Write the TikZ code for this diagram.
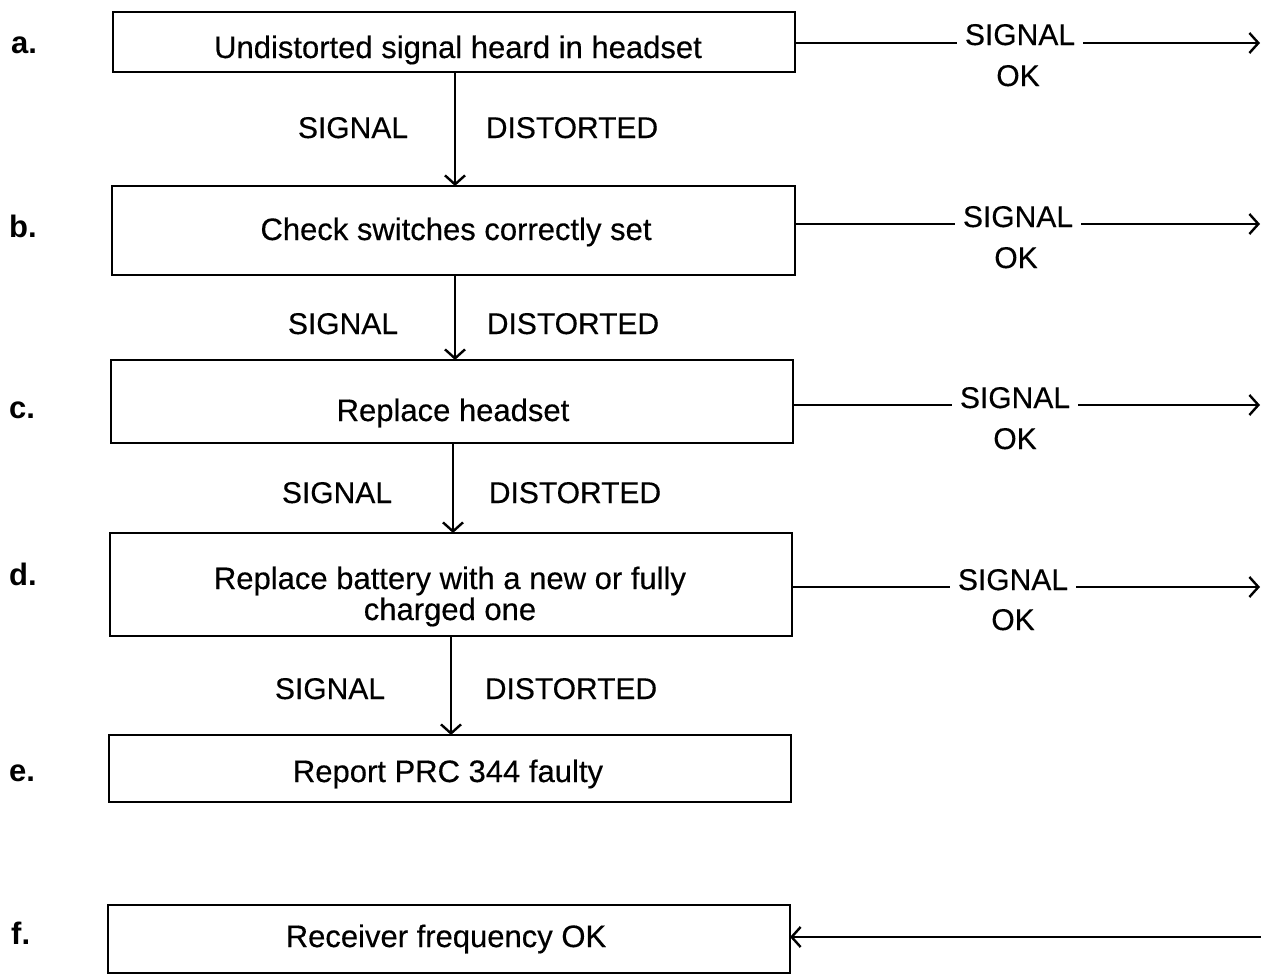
\documentclass[tikz,border=0pt]{standalone}
\usepackage{fontspec}
\setmainfont[FakeBold=0.4]{Liberation Sans}
\newfontfamily\letterfont{Liberation Sans}
\usetikzlibrary{arrows.meta}
\begin{document}
\begin{tikzpicture}[x=1pt,y=-1pt,
  box/.style={draw, line width=2.3pt, inner sep=0pt, outer sep=0pt},
  txt/.style={font=\fontsize{31}{31}\selectfont, anchor=base, inner sep=0pt},
  lab/.style={font=\fontsize{30}{31}\selectfont, anchor=base, inner sep=0pt},
  sig/.style={font=\fontsize{30}{31}\selectfont, anchor=base, inner xsep=8pt, inner ysep=0pt},
  letter/.style={font=\fontsize{31}{31}\selectfont\letterfont\bfseries, anchor=base west, inner sep=0pt},
  conn/.style={line width=2.2pt},
  arr/.style={line width=2.2pt, -{Straight Barb[length=9pt,width=20pt,line width=2.4pt]}},
]
\useasboundingbox (0,0) rectangle (1261,975);

% boxes
\node[box, minimum width=682pt, minimum height=60pt]  (a) at (454,42) {};
\node[box, minimum width=683pt, minimum height=89pt]  (b) at (453.5,230.5) {};
\node[box, minimum width=682pt, minimum height=83pt]  (c) at (452,401.5) {};
\node[box, minimum width=682pt, minimum height=103pt] (d) at (451,584.5) {};
\node[box, minimum width=682pt, minimum height=67pt]  (e) at (450,768.5) {};
\node[box, minimum width=682pt, minimum height=68pt]  (f) at (449,939) {};

% box texts
\node[txt] (ta) at (458,58) {Undistorted signal heard in headset};
\node[txt] (tb) at (456,240) {Check switches correctly set};
\node[txt] (tc) at (453,421) {Replace headset};
\node[font=\fontsize{31}{31}\selectfont, align=center, inner sep=0pt] (td) at (450,596.5) {Replace battery with a new or fully\\charged one};
\node[txt] (te) at (448,782) {Report PRC 344 faulty};
\node[txt] (tf) at (446,947) {Receiver frequency OK};

% letters
\node[letter] (la) at (11,53) {a.};
\node[letter] (lb) at (9,237) {b.};
\node[letter] (lc) at (9,418) {c.};
\node[letter] (ld) at (9,585) {d.};
\node[letter] (le) at (9,781) {e.};
\node[letter] (lf) at (11,944) {f.};

% signal / distorted labels
\node[lab] (s1) at (353,138) {SIGNAL};
\node[lab] (d1) at (572,138) {DISTORTED};
\node[lab] (s2) at (343,334) {SIGNAL};
\node[lab] (d2) at (573,334) {DISTORTED};
\node[lab] (s3) at (337,503) {SIGNAL};
\node[lab] (d3) at (575,503) {DISTORTED};
\node[lab] (s4) at (330,699) {SIGNAL};
\node[lab] (d4) at (571,699) {DISTORTED};

% vertical arrows
\coordinate (v1) at (455,0);
\coordinate (v2) at (455,0);
\coordinate (v3) at (453,0);
\coordinate (v4) at (451,0);
\draw[arr] (a.south -| v1) -- (b.north -| v1);
\draw[arr] (b.south -| v2) -- (c.north -| v2);
\draw[arr] (c.south -| v3) -- (d.north -| v3);
\draw[arr] (d.south -| v4) -- (e.north -| v4);

% right-hand signal ok
\node[sig] (ra) at (1020,45) {SIGNAL};
\node[lab] (oa) at (1018,86) {OK};
\node[sig] (rb) at (1018,227) {SIGNAL};
\node[lab] (ob) at (1016,268) {OK};
\node[sig] (rc) at (1015,408) {SIGNAL};
\node[lab] (oc) at (1015,449) {OK};
\node[sig] (rd) at (1013,590) {SIGNAL};
\node[lab] (od) at (1013,630) {OK};

\coordinate (ea) at (1260,43);
\coordinate (eb) at (1260,224);
\coordinate (ec) at (1260,405);
\coordinate (ed) at (1260,587);
\coordinate (ef) at (1261,937);

\draw[conn] (a.east |- ea) -- (ra.west |- ea);
\draw[arr] (ra.east |- ea) -- (ea);
\draw[conn] (b.east |- eb) -- (rb.west |- eb);
\draw[arr] (rb.east |- eb) -- (eb);
\draw[conn] (c.east |- ec) -- (rc.west |- ec);
\draw[arr] (rc.east |- ec) -- (ec);
\draw[conn] (d.east |- ed) -- (rd.west |- ed);
\draw[arr] (rd.east |- ed) -- (ed);
\draw[arr] (ef) -- (f.east |- ef);
\end{tikzpicture}
\end{document}
